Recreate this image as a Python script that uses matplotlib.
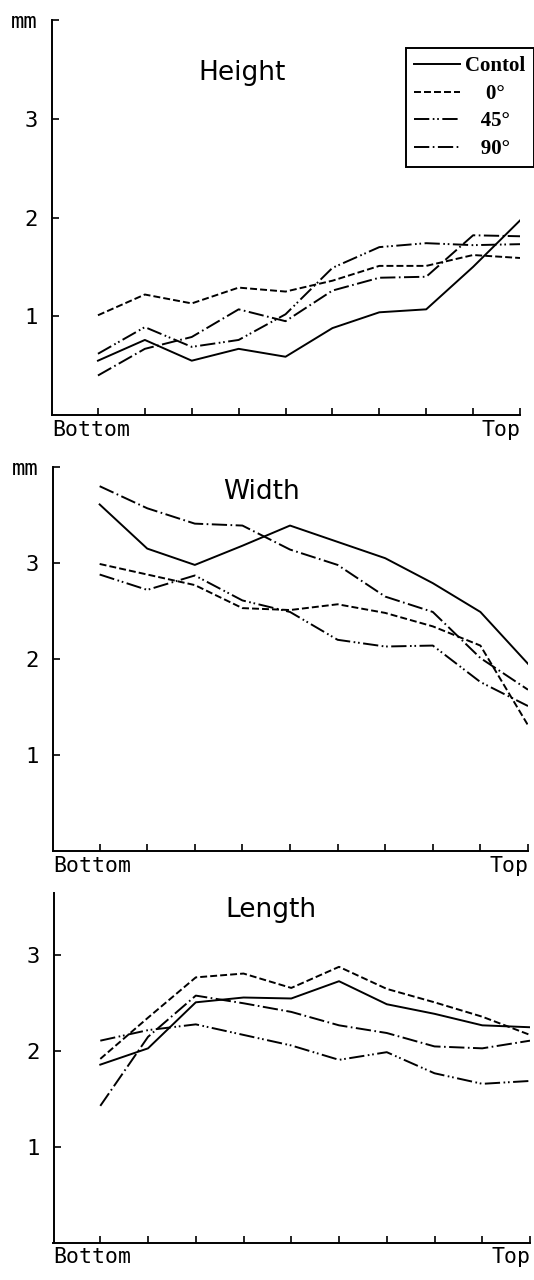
import matplotlib
matplotlib.use("Agg")
from matplotlib import pyplot as plt
import numpy as np

plt.rcParams['lines.scale_dashes'] = False

positions = np.arange(10)

# Height (mm)
heightControl = [0.55, 0.76, 0.55, 0.67, 0.59, 0.88, 1.04, 1.07, 1.50, 1.97]
height0 = [1.01, 1.22, 1.13, 1.29, 1.25, 1.36, 1.51, 1.51, 1.62, 1.59]
height45 = [0.62, 0.89, 0.69, 0.76, 1.02, 1.49, 1.70, 1.74, 1.72, 1.73]
height90 = [0.40, 0.67, 0.79, 1.07, 0.95, 1.26, 1.39, 1.40, 1.82, 1.81]

# Width (mm)
widthControl = [3.61, 3.15, 2.98, 3.18, 3.39, 3.22, 3.05, 2.79, 2.49, 1.95]
width0 = [2.99, 2.88, 2.77, 2.53, 2.51, 2.57, 2.48, 2.34, 2.14, 1.31]
width45 = [2.88, 2.72, 2.87, 2.61, 2.49, 2.20, 2.13, 2.14, 1.76, 1.51]
width90 = [3.80, 3.57, 3.41, 3.39, 3.14, 2.98, 2.65, 2.49, 2.01, 1.68]

# Length (mm)
lengthControl = [1.86, 2.03, 2.51, 2.56, 2.55, 2.73, 2.49, 2.39, 2.27, 2.25]
length0 = [1.92, 2.35, 2.77, 2.81, 2.66, 2.88, 2.65, 2.51, 2.36, 2.17]
length45 = [2.11, 2.22, 2.28, 2.17, 2.06, 1.91, 1.99, 1.77, 1.66, 1.69]
length90 = [1.43, 2.15, 2.58, 2.50, 2.41, 2.27, 2.19, 2.05, 2.03, 2.11]

labels = ["Contol", "    0°", "   45°", "   90°"]
styles = ['-', (0, (5, 2.2)), (0, (11, 2.5, 1.2, 2, 1.2, 2.5)), (0, (11, 2.5, 1.2, 2.5))]

mono = 'DejaVu Sans Mono'

fig = plt.figure(figsize=(5.34, 12.8), dpi=100)
W, H = 534.0, 1280.0
# left, right, top, bottom in pixels
boxes = [(52, 520, 20, 415), (53, 528, 467, 851), (53.5, 530, 893, 1243)]
panels = [
    ("Height", [heightControl, height0, height45, height90], 4.0, True, (0.406, 0.866)),
    ("Width", [widthControl, width0, width45, width90], 4.0, True, (0.44, 0.935)),
    ("Length", [lengthControl, length0, length45, length90], 3.65, False, (0.457, 0.952)),
]

for i, (title, series, ytop, mm, tpos) in enumerate(panels):
    l, r, t, b = boxes[i]
    ax = fig.add_axes([l / W, 1 - b / H, (r - l) / W, (b - t) / H])
    for vals, ls, lab in zip(series, styles, labels):
        ax.plot(positions, vals, color='black', linestyle=ls, linewidth=1.4, label=lab)
    ax.set_xlim(-0.98, 9)
    ax.set_ylim(0, ytop)
    ax.spines['top'].set_visible(False)
    ax.spines['right'].set_visible(False)
    ax.spines['left'].set_linewidth(1.4)
    ax.spines['bottom'].set_linewidth(1.4)
    ax.set_xticks(positions)
    ax.set_xticklabels([])
    if mm:
        ax.set_yticks([1, 2, 3, 4])
        ax.set_yticklabels(['1', '2', '3', 'mm'])
    else:
        ax.set_yticks([1, 2, 3])
        ax.set_yticklabels(['1', '2', '3'])
    ax.tick_params(direction='in', length=5, width=1.2, pad=10, labelsize=16)
    for lbl in ax.get_yticklabels():
        lbl.set_family(mono)
    ax.text(0, -0.012, "Bottom", transform=ax.transAxes, ha='left', va='top',
            family=mono, fontsize=15.5)
    ax.text(1, -0.012, "Top", transform=ax.transAxes, ha='right', va='top',
            family=mono, fontsize=15.5)
    ax.text(tpos[0], tpos[1], title, transform=ax.transAxes, ha='center', va='center',
            family='DejaVu Sans', fontsize=19)
    if i == 0:
        leg = ax.legend(loc='upper right', bbox_to_anchor=(1.03, 0.929), frameon=True,
                        fancybox=False, framealpha=1, edgecolor='black',
                        prop={'family': 'Liberation Serif', 'weight': 'bold', 'size': 15},
                        handlelength=2.2, labelspacing=0.36, borderpad=0.4,
                        handletextpad=0.25, borderaxespad=0)
        leg.get_frame().set_linewidth(1.4)

fig.savefig("out.png", dpi=100)
